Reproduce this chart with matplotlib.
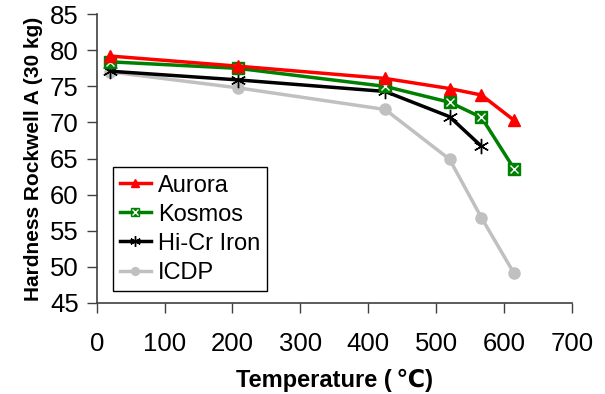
import matplotlib
matplotlib.use("Agg")
import matplotlib.pyplot as plt
from matplotlib.legend_handler import HandlerTuple

plt.rcParams['font.family'] = ['Liberation Sans', 'DejaVu Sans']

temps_aurora = [20, 208, 425, 520, 567, 615]
aurora = [79.2, 77.8, 76.1, 74.7, 73.8, 70.3]
temps_kosmos = [20, 208, 425, 520, 567, 615]
kosmos = [78.4, 77.5, 75.0, 72.8, 70.7, 63.6]
temps_hicr = [20, 208, 425, 520, 567]
hicr = [77.1, 75.9, 74.3, 70.8, 66.7]
temps_icdp = [20, 208, 425, 520, 567, 615]
icdp = [77.0, 74.8, 71.8, 64.9, 56.8, 49.1]

xticks = [0, 100, 200, 300, 400, 500, 600, 700]
yticks = [45, 50, 55, 60, 65, 70, 75, 80, 85]

fig = plt.figure(figsize=(6.05, 3.94), dpi=100)
ax = fig.add_axes([0.160, 0.231, 0.785, 0.733])

l_icdp, = ax.plot(temps_icdp, icdp, color='#C0C0C0', lw=2.5, marker='o', ms=8,
                  mfc='#C0C0C0', mec='#C0C0C0')
l_hicr, = ax.plot(temps_hicr, hicr, color='black', lw=2.5, marker=(6, 2, 0), ms=11,
                  mec='black', mew=1.0)
l_kos, = ax.plot(temps_kosmos, kosmos, color='#008000', lw=2.5, marker='s', ms=8,
                 mfc='#008000', mec='#008000')
l_kosx, = ax.plot(temps_kosmos, kosmos, ls='none', marker='x', ms=6, mec='white', mew=1.0)
l_aur, = ax.plot(temps_aurora, aurora, color='#FF0000', lw=2.5, marker='^', ms=9,
                 mfc='#FF0000', mec='#FF0000')

ax.set_xlim(0, 700)
ax.set_ylim(45, 85)
ax.set_xticks(xticks)
ax.set_yticks(yticks)
ax.tick_params(axis='both', direction='out', length=7, width=1, labelsize=18.5,
               color='#404040')
ax.tick_params(axis='y', pad=6)
ax.tick_params(axis='x', pad=14)
for s in ['top', 'right']:
    ax.spines[s].set_visible(False)
for s in ['left', 'bottom']:
    ax.spines[s].set_color('#404040')
    ax.spines[s].set_linewidth(1.2)

ax.set_xlabel('Temperature (\u2009\u2103)', fontsize=17, fontweight='bold', labelpad=9)
ax.set_ylabel('Hardness Rockwell A (30 kg)', fontsize=15, fontweight='bold', labelpad=5)

leg = ax.legend([l_aur, (l_kos, l_kosx), l_hicr, l_icdp],
                ['Aurora', 'Kosmos', 'Hi-Cr Iron', 'ICDP'],
                handler_map={tuple: HandlerTuple(ndivide=1)},
                loc='lower left', bbox_to_anchor=(0.034, 0.042), borderaxespad=0,
                fontsize=17, frameon=True, fancybox=False, framealpha=1,
                edgecolor='black', handlelength=1.3, handletextpad=0.3,
                labelspacing=0.3, borderpad=0.3, markerscale=0.7)
leg.get_frame().set_linewidth(1.0)

fig.savefig('out.png', dpi=100)
